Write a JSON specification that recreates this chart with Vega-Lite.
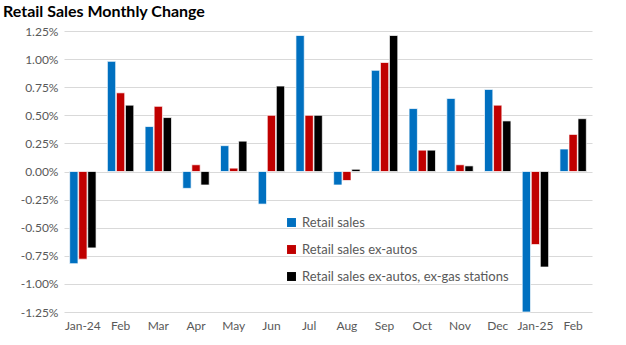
{
  "$schema": "https://vega.github.io/schema/vega-lite/v6.json",
  "width": 528,
  "height": 281,
  "autosize": {"type": "none"},
  "padding": {"left": 64, "top": 31, "right": 34, "bottom": 33},
  "background": "white",
  "title": {"text": "Retail Sales Monthly Change", "anchor": "start", "frame": "group", "dx": -61, "offset": 5, "fontSize": 16, "font": "Lato", "fontWeight": "bold", "color": "#000000"},
  "config": {"view": {"stroke": null}, "font": "Lato"},
  "data": {"values": [
    {"m": "Jan-24", "s": "Retail sales", "v": -0.0082},
    {"m": "Jan-24", "s": "Retail sales ex-autos", "v": -0.0078},
    {"m": "Jan-24", "s": "Retail sales ex-autos, ex-gas stations", "v": -0.0068},
    {"m": "Feb", "s": "Retail sales", "v": 0.0098},
    {"m": "Feb", "s": "Retail sales ex-autos", "v": 0.0070},
    {"m": "Feb", "s": "Retail sales ex-autos, ex-gas stations", "v": 0.0059},
    {"m": "Mar", "s": "Retail sales", "v": 0.0040},
    {"m": "Mar", "s": "Retail sales ex-autos", "v": 0.0058},
    {"m": "Mar", "s": "Retail sales ex-autos, ex-gas stations", "v": 0.0048},
    {"m": "Apr", "s": "Retail sales", "v": -0.0015},
    {"m": "Apr", "s": "Retail sales ex-autos", "v": 0.0006},
    {"m": "Apr", "s": "Retail sales ex-autos, ex-gas stations", "v": -0.0012},
    {"m": "May", "s": "Retail sales", "v": 0.0023},
    {"m": "May", "s": "Retail sales ex-autos", "v": 0.0003},
    {"m": "May", "s": "Retail sales ex-autos, ex-gas stations", "v": 0.0027},
    {"m": "Jun", "s": "Retail sales", "v": -0.0029},
    {"m": "Jun", "s": "Retail sales ex-autos", "v": 0.0050},
    {"m": "Jun", "s": "Retail sales ex-autos, ex-gas stations", "v": 0.0076},
    {"m": "Jul", "s": "Retail sales", "v": 0.0121},
    {"m": "Jul", "s": "Retail sales ex-autos", "v": 0.0050},
    {"m": "Jul", "s": "Retail sales ex-autos, ex-gas stations", "v": 0.0050},
    {"m": "Aug", "s": "Retail sales", "v": -0.0012},
    {"m": "Aug", "s": "Retail sales ex-autos", "v": -0.0008},
    {"m": "Aug", "s": "Retail sales ex-autos, ex-gas stations", "v": 0.0002},
    {"m": "Sep", "s": "Retail sales", "v": 0.0090},
    {"m": "Sep", "s": "Retail sales ex-autos", "v": 0.0097},
    {"m": "Sep", "s": "Retail sales ex-autos, ex-gas stations", "v": 0.0121},
    {"m": "Oct", "s": "Retail sales", "v": 0.0056},
    {"m": "Oct", "s": "Retail sales ex-autos", "v": 0.0019},
    {"m": "Oct", "s": "Retail sales ex-autos, ex-gas stations", "v": 0.0019},
    {"m": "Nov", "s": "Retail sales", "v": 0.0065},
    {"m": "Nov", "s": "Retail sales ex-autos", "v": 0.0006},
    {"m": "Nov", "s": "Retail sales ex-autos, ex-gas stations", "v": 0.0005},
    {"m": "Dec", "s": "Retail sales", "v": 0.0073},
    {"m": "Dec", "s": "Retail sales ex-autos", "v": 0.0059},
    {"m": "Dec", "s": "Retail sales ex-autos, ex-gas stations", "v": 0.0045},
    {"m": "Jan-25", "s": "Retail sales", "v": -0.0125},
    {"m": "Jan-25", "s": "Retail sales ex-autos", "v": -0.0065},
    {"m": "Jan-25", "s": "Retail sales ex-autos, ex-gas stations", "v": -0.0085},
    {"m": "Feb ", "s": "Retail sales", "v": 0.0020},
    {"m": "Feb ", "s": "Retail sales ex-autos", "v": 0.0033},
    {"m": "Feb ", "s": "Retail sales ex-autos, ex-gas stations", "v": 0.0047}
  ]},
  "mark": {"type": "bar", "stroke": "white", "strokeWidth": 0.7},
  "encoding": {
    "x": {"field": "m", "type": "nominal", "sort": null,
      "scale": {"paddingInner": 0.3, "paddingOuter": 0.15},
      "axis": {"title": null, "labelAngle": 0, "ticks": false, "domain": false, "labelFontSize": 12, "labelColor": "#595959", "labelPadding": 8, "labelFont": "Lato"}},
    "xOffset": {"field": "s", "type": "nominal", "sort": null, "scale": {"paddingInner": 0.08}},
    "y": {"field": "v", "type": "quantitative",
      "scale": {"domain": [-0.0125, 0.0125], "nice": false, "zero": true},
      "axis": {"title": null, "values": [-0.0125, -0.01, -0.0075, -0.005, -0.0025, 0, 0.0025, 0.005, 0.0075, 0.01, 0.0125],
        "labelExpr": "replace(format(datum.value, '.2%'), '\u2212', '-')",
        "ticks": false, "domain": false, "gridColor": "#d9d9d9", "gridWidth": 1, "labelFontSize": 12, "labelColor": "#595959", "labelPadding": 6, "labelFont": "Lato"}},
    "color": {"field": "s", "type": "nominal", "sort": null,
      "scale": {"domain": ["Retail sales", "Retail sales ex-autos", "Retail sales ex-autos, ex-gas stations"], "range": ["#0070C0", "#C00000", "#000000"]},
      "legend": {"title": null, "orient": "none", "legendX": 221, "legendY": 185, "symbolType": "square", "symbolSize": 80, "symbolStrokeWidth": 0, "labelFontSize": 13, "labelColor": "#595959", "labelFont": "Lato", "rowPadding": 13, "labelOffset": 4, "labelLimit": 320}}
  }
}
